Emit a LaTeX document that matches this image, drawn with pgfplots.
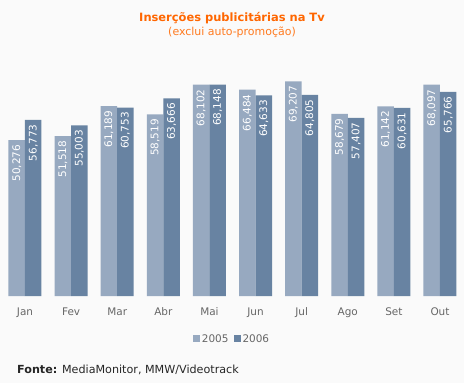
\documentclass[border=0pt]{standalone}
\usepackage{fontspec}
\setmainfont{DejaVu Sans}
\usepackage{pgfplots}
\pgfplotsset{compat=1.18}
\definecolor{bgc}{HTML}{FAFAFA}
\definecolor{cA}{HTML}{97A9C0}
\definecolor{cB}{HTML}{6883A2}
\definecolor{ttl}{HTML}{FF6600}
\definecolor{sub}{HTML}{FF7A1F}
\definecolor{lbl}{HTML}{666666}
\begin{document}
\begin{tikzpicture}[x=1bp,y=1bp]
\fill[bgc] (0,-87) rectangle (464,296);
\useasboundingbox (0,-87) rectangle (464,296);
\begin{axis}[
  at={(0,0)}, anchor=south west,
  scale only axis, width=464bp, height=296bp,
  xmin=-0.542, xmax=9.521, ymin=0, ymax=95400,
  axis line style={draw=none}, tick style={draw=none},
  ytick=\empty,
  xtick={0,...,9},
  xticklabels={Jan,Fev,Mar,Abr,Mai,Jun,Jul,Ago,Set,Out},
  xticklabel style={font=\fontsize{10.5}{12}\selectfont, text=lbl, yshift=-4bp},
  ybar, bar width=16.5bp,
  clip=false,
  nodes near coords={\pgfmathprintnumber[fixed,precision=0,1000 sep={,},assume math mode=true]{\pgfplotspointmeta}},
  every node near coord/.append style={rotate=90, anchor=east, text=white, inner xsep=4.5bp, inner ysep=0pt, font=\fontsize{10.5}{12}\selectfont},
  legend style={at={(0.5,-0.145)}, anchor=center, draw=none, fill=none, legend columns=2,
     font=\fontsize{10.5}{12}\selectfont, text=lbl,
     /tikz/every even column/.append style={column sep=3bp}},
]
\addplot[fill=cA, draw=none, bar shift=-8.25bp,
  legend image code/.code={\fill[cA] (0bp,-3.5bp) rectangle (7bp,3.5bp);}]
  coordinates {(0,50276) (1,51518) (2,61189) (3,58519) (4,68102) (5,66484) (6,69207) (7,58679) (8,61142) (9,68097)};
\addplot[fill=cB, draw=none, bar shift=8.25bp,
  legend image code/.code={\fill[cB] (0bp,-3.5bp) rectangle (7bp,3.5bp);}]
  coordinates {(0,56773) (1,55003) (2,60753) (3,63666) (4,68148) (5,64633) (6,64805) (7,57407) (8,60631) (9,65766)};
\legend{2005,2006}
\end{axis}
\node[text=ttl, font=\bfseries\fontsize{11.5}{13}\selectfont] at (232,278) {Inserções publicitárias na Tv};
\node[text=sub, font=\fontsize{11}{13}\selectfont] at (232,264) {(exclui auto-promoção)};
\node[anchor=west, inner sep=0pt, font=\fontsize{11.2}{13}\selectfont, text=black!85] at (17,-74) {\textbf{Fonte:} MediaMonitor, MMW/Videotrack};
\end{tikzpicture}
\end{document}
